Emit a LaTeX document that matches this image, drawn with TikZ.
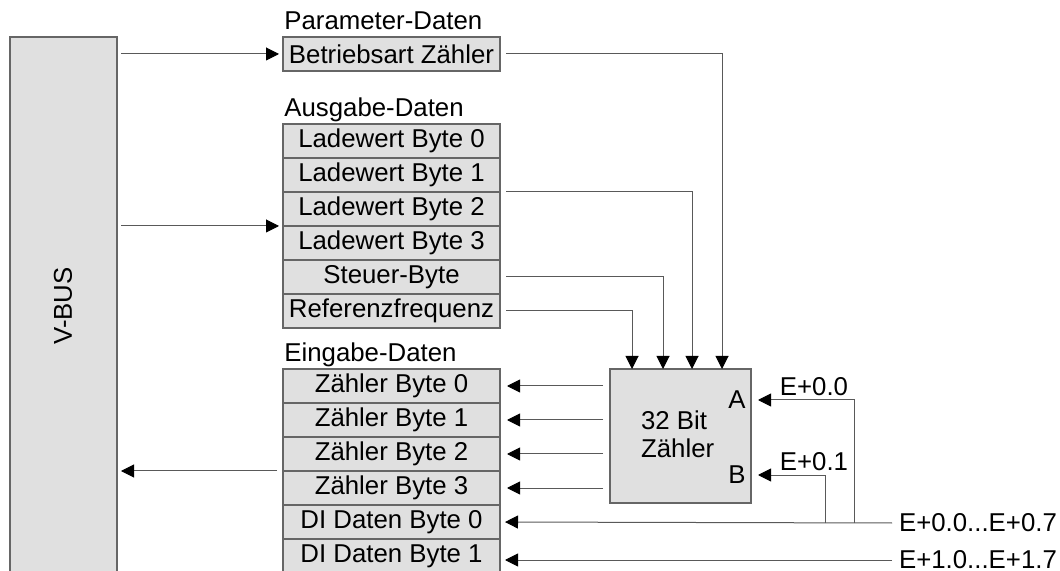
\documentclass[tikz,border=0pt]{standalone}
\usepackage{fontspec}
\setmainfont{Liberation Sans}
\usetikzlibrary{positioning,arrows.meta,calc}
\definecolor{boxG}{HTML}{E0E0E0}

\begin{document}
\begin{tikzpicture}[x=0.5pt, y=-0.5pt,
  every node/.style={font=\fontsize{12.9}{14}\selectfont},
  cell/.style={rectangle, draw=black!60, fill=boxG, line width=0.75pt,
               minimum width=108.5pt, minimum height=17pt, inner sep=0pt, outer sep=0pt},
  busbox/.style={rectangle, draw=black!60, fill=boxG, line width=0.75pt,
                 minimum width=53.5pt, minimum height=281.5pt, inner sep=0pt, outer sep=0pt},
  grp/.style={anchor=base west, inner sep=0pt},
  conn/.style={-{Triangle[length=6.5pt, width=6.5pt, color=black]}, draw=black!65, line width=0.5pt}
]
  \useasboundingbox (0,0) rectangle (1060,571);
  \clip (0,0) rectangle (1060,571);

  % bus
  \node[busbox] (vbus) at (63.5,318.5) {};
  \node[rotate=90] (vbustxt) at (63,306) {V-BUS};

  % parameter data
  \node[cell, anchor=north west] (betr) at (283,37) {Betriebsart Zähler};
  \node[grp] (partxt) at ($(betr.north west)+(1,-7)$) {Parameter-Daten};

  % output data
  \node[cell, anchor=north west] (lw0) at (283,124) {Ladewert Byte 0};
  \node[cell, below=0pt of lw0] (lw1) {Ladewert Byte 1};
  \node[cell, below=0pt of lw1] (lw2) {Ladewert Byte 2};
  \node[cell, below=0pt of lw2] (lw3) {Ladewert Byte 3};
  \node[cell, below=0pt of lw3] (st)  {Steuer-Byte};
  \node[cell, below=0pt of st]  (rf)  {Referenzfrequenz};
  \node[grp] (austxt) at ($(lw0.north west)+(1,-7)$) {Ausgabe-Daten};

  % input data
  \node[cell, anchor=north west] (zb0) at (283,369) {Zähler Byte 0};
  \node[cell, below=0pt of zb0] (zb1) {Zähler Byte 1};
  \node[cell, below=0pt of zb1] (zb2) {Zähler Byte 2};
  \node[cell, below=0pt of zb2] (zb3) {Zähler Byte 3};
  \node[cell, below=0pt of zb3] (di0) {DI Daten Byte 0};
  \node[cell, below=0pt of di0] (di1) {DI Daten Byte 1};
  \node[grp] (eintxt) at ($(zb0.north west)+(1,-7)$) {Eingabe-Daten};

  % counter
  \node[rectangle, draw=black!60, fill=boxG, line width=0.75pt, minimum width=70.5pt,
        minimum height=67pt, outer sep=0pt] (cnt) at (680.5,436) {};
  \node[align=left, anchor=west] (cnttxt) at (634,434) {32 Bit\\Zähler};
  \node (pinA) at (737,400) {A};
  \node (pinB) at (737,475) {B};

  % bus connections
  \draw[conn, shorten <=2pt, shorten >=2pt] (vbus.east |- betr.west) -- (betr.west);
  \draw[conn, shorten <=2pt, shorten >=2pt] (vbus.east |- lw2.south west) -- (lw2.south west);
  \draw[conn, shorten <=3pt, shorten >=2pt] (zb2.south west) -- (vbus.east |- zb2.south west);

  % into the counter
  \draw[conn, shorten <=3pt] (betr.east) -| ($(cnt.north west)+(112,0)$);
  \draw[conn, shorten <=3pt] (lw1.south east) -| ($(cnt.north west)+(82,0)$);
  \draw[conn, shorten <=3pt] (st.east) -| ($(cnt.north west)+(53,0)$);
  \draw[conn, shorten <=3pt] (rf.east) -| ($(cnt.north west)+(22,0)$);

  % out of the counter
  \draw[conn, shorten <=3.5pt, shorten >=3.5pt] (cnt.west |- zb0.east) -- (zb0.east);
  \draw[conn, shorten <=3.5pt, shorten >=3.5pt] (cnt.west |- zb1.east) -- (zb1.east);
  \draw[conn, shorten <=3.5pt, shorten >=3.5pt] (cnt.west |- zb2.east) -- (zb2.east);
  \draw[conn, shorten <=3.5pt, shorten >=3.5pt] (cnt.west |- zb3.east) -- (zb3.east);

  % digital inputs
  \coordinate (in0) at (892,523);
  \coordinate (in1) at (892,560);
  \coordinate (ja) at (854,523);
  \coordinate (jb) at (825,523);
  \node[right] (in0txt) at (in0) {E+0.0...E+0.7};
  \node[right] (in1txt) at (in1) {E+1.0...E+1.7};
  \draw[conn, shorten >=2.5pt] (in0) -- (di0.east);
  \draw[conn, shorten >=2.5pt] (in1) -- (di1.east |- in1);
  \draw[conn, shorten >=3.5pt] (ja) |- (cnt.east |- pinA)
    node[pos=0.5, above, xshift=-20pt, inner sep=2pt] {E+0.0};
  \draw[conn, shorten >=3.5pt] (jb) |- (cnt.east |- pinB)
    node[pos=0.5, above, xshift=-5.5pt, inner sep=2pt] {E+0.1};
\end{tikzpicture}
\end{document}
